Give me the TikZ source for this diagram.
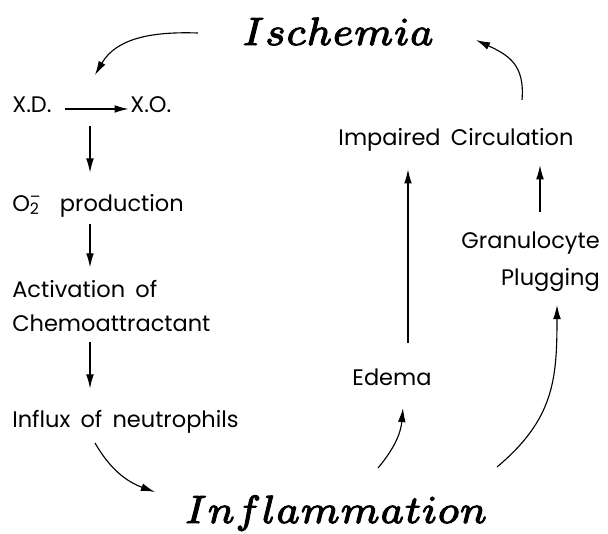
\documentclass[tikz,border=0pt]{standalone}
\usepackage{fontspec}
\setsansfont{Poppins}[WordSpace=1.7]
\usetikzlibrary{arrows.meta, positioning, calc}

\newcommand{\bigword}[1]{\special{pdf:literal direct 2 Tr 0.18 w}%
    \scalebox{4}{\fontsize{7}{8}\selectfont$#1$}%
    \special{pdf:literal direct 0 Tr}}

\begin{document}
\begin{tikzpicture}[
    x=0.025cm, y=-0.025cm,
    every node/.style={font=\sffamily\fontsize{16}{24}\selectfont, inner sep=0pt},
    title/.style={anchor=base},
    stage/.style={anchor=base west, align=left},
    flow/.style={-{Latex[length=10pt, width=5.5pt]}, thick},
]
\useasboundingbox (0,0) rectangle (608,534);

\node[title] (isch) at (338,45)  {\bigword{Ischemia}};
\node[title] (infl) at (336,523) {\bigword{Inflammation}};

% left chain
\node[stage] (xd)   at (12,112) {X.D.};
\node[stage] (xo)   at (130,112) {X.O.};
\node[stage] (o2)   at (12,211)
    {O\rlap{\textsuperscript{--}}\textsubscript{2}\hspace{0.9em}production};
\node[stage, anchor=north west] (act) at (12,280)
    {Activation of\\Chemoattractant};
\node[stage] (flux) at (12,427) {Influx of neutrophils};

% right side
\node[anchor=base] (edema) at (392,385) {Edema};
\node[anchor=base] (circ)  at (456,145) {Impaired Circulation};
\node[anchor=north east, align=right, font=\sffamily\fontsize{16}{26}\selectfont]
    (gran) at (600,232) {Granulocyte\\Plugging};

\coordinate (colL) at (90,0);
\coordinate (colM) at (408,0);
\coordinate (colR) at (540,0);

\draw[flow] ([xshift=9pt]xd.mid east) -- ([xshift=-1pt]xo.mid west);
\draw[flow, shorten <=10pt, shorten >=15pt] (colL |- xd.south) -- (colL |- o2.north);
\draw[flow, shorten <=5pt, shorten >=9pt] (colL |- o2.south) -- (colL |- act.north);
\draw[flow, shorten <=7pt, shorten >=15pt] (colL |- act.south) -- (colL |- flux.north);
\draw[flow, shorten <=18pt, shorten >=13pt] (colM |- edema.north) -- (colM |- circ.south);
\draw[flow, shorten <=14pt, shorten >=10pt] (colR |- gran.north) -- (colR |- circ.south);

% curved links
\coordinate (ischOut) at (198,33);
\coordinate (xdIn)    at (95,75);
\coordinate (fluxOut) at (95,443);
\coordinate (inflIn)  at (155,492);
\coordinate (edemaIn) at (403,408);
\coordinate (inflOutA) at (378,468);
\coordinate (inflOutB) at (497,467);
\coordinate (granIn)  at (557,305);
\coordinate (circOut) at (522,100);
\coordinate (ischIn)  at (476,40);

\draw[flow] (ischOut) to[out=178, in=60] (xdIn);
\draw[flow] (fluxOut) to[out=-60, in=160] (inflIn);
\draw[flow] (inflOutA) to[out=50, in=-95] (edemaIn);
\draw[flow] (inflOutB) to[out=40, in=-90, looseness=1.1] (granIn);
\draw[flow] (circOut) to[out=85, in=-25, looseness=1.2] (ischIn);
\end{tikzpicture}
\end{document}
